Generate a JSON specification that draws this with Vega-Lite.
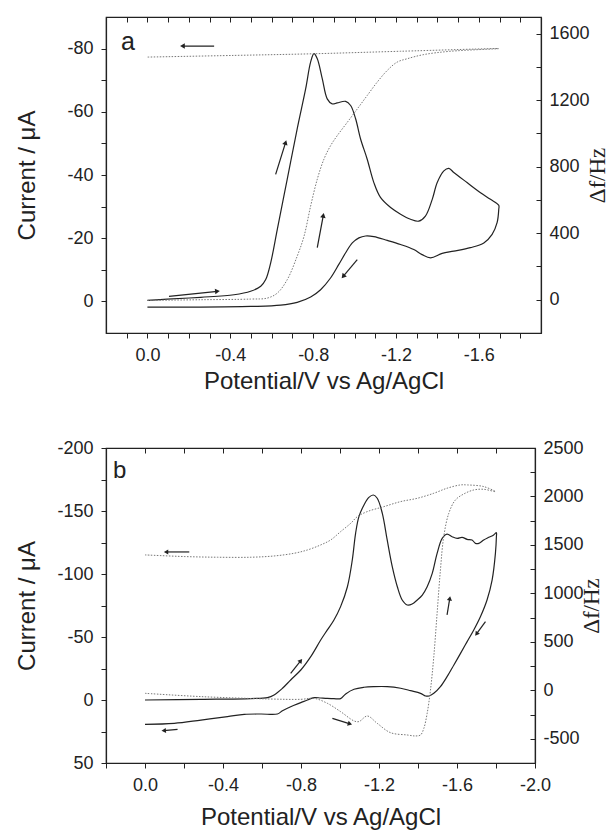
{
  "$schema": "https://vega.github.io/schema/vega-lite/v6.json",
  "background": "white",
  "padding": {"left": 14, "top": 15, "right": 0, "bottom": 4},
  "bounds": "flush",
  "spacing": 115,
  "config": {
    "view": {"stroke": "#222", "strokeWidth": 1.2},
    "font": "Liberation Sans",
    "axis": {
      "labelFont": "Liberation Sans", "labelFontSize": 18, "labelColor": "#222",
      "titleFont": "Liberation Sans", "titleFontSize": 24, "titleFontWeight": "normal", "titleColor": "#222",
      "domainColor": "#222", "domainWidth": 1.2, "tickColor": "#222", "tickWidth": 1,
      "grid": false, "labelOverlap": false, "labelFlush": false, "labelBound": false
    }
  },
  "datasets": {
    "cvA": [
      {"V":0,"I":-0.3},{"V":-0.096,"I":-0.7},{"V":-0.257,"I":-1.3},{"V":-0.418,"I":-2.1},{"V":-0.498,"I":-3.2},{"V":-0.547,"I":-4.8},{"V":-0.571,"I":-6.9},{"V":-0.595,"I":-12.2},{"V":-0.627,"I":-22.8},{"V":-0.675,"I":-38.7},{"V":-0.723,"I":-54.6},{"V":-0.764,"I":-67.3},{"V":-0.788,"I":-75.8},{"V":-0.804,"I":-78.4},{"V":-0.82,"I":-76.8},{"V":-0.844,"I":-70.5},{"V":-0.868,"I":-64.1},{"V":-0.892,"I":-62.5},{"V":-0.916,"I":-62.8},{"V":-0.957,"I":-63.3},{"V":-0.981,"I":-62.0},{"V":-1.005,"I":-57.8},{"V":-1.029,"I":-51.4},{"V":-1.061,"I":-45.0},{"V":-1.093,"I":-37.6},{"V":-1.125,"I":-32.9},{"V":-1.174,"I":-29.7},{"V":-1.222,"I":-27.6},{"V":-1.27,"I":-26.0},{"V":-1.31,"I":-25.4},{"V":-1.342,"I":-27.0},{"V":-1.375,"I":-32.3},{"V":-1.399,"I":-37.6},{"V":-1.431,"I":-41.3},{"V":-1.455,"I":-42.1},{"V":-1.479,"I":-40.8},{"V":-1.543,"I":-37.6},{"V":-1.608,"I":-34.4},{"V":-1.656,"I":-32.3},{"V":-1.696,"I":-30.4},
      {"V":-1.696,"I":-29.1},{"V":-1.688,"I":-24.9},{"V":-1.664,"I":-21.2},{"V":-1.624,"I":-18.5},{"V":-1.559,"I":-17.0},{"V":-1.479,"I":-15.9},{"V":-1.423,"I":-15.2},{"V":-1.367,"I":-13.8},{"V":-1.326,"I":-14.8},{"V":-1.286,"I":-16.4},{"V":-1.222,"I":-18.0},{"V":-1.158,"I":-19.3},{"V":-1.093,"I":-20.5},{"V":-1.053,"I":-20.7},{"V":-1.021,"I":-20.1},{"V":-0.989,"I":-18.5},{"V":-0.957,"I":-15.4},{"V":-0.924,"I":-11.7},{"V":-0.884,"I":-7.4},{"V":-0.836,"I":-3.7},{"V":-0.788,"I":-1.4},{"V":-0.723,"I":0.3},{"V":-0.643,"I":1.2},{"V":-0.498,"I":1.6},{"V":-0.257,"I":1.8},{"V":0,"I":1.8}
    ],
    "dfA": [
      {"V":0,"F":-4},{"V":-0.257,"F":0},{"V":-0.498,"F":4},{"V":-0.579,"F":10},{"V":-0.627,"F":40},{"V":-0.675,"F":121},{"V":-0.723,"F":262},{"V":-0.756,"F":382},{"V":-0.788,"F":564},{"V":-0.82,"F":725},{"V":-0.852,"F":845},{"V":-0.884,"F":926},{"V":-0.916,"F":986},{"V":-0.965,"F":1067},{"V":-1.013,"F":1147},{"V":-1.061,"F":1228},{"V":-1.109,"F":1308},{"V":-1.158,"F":1379},{"V":-1.206,"F":1429},{"V":-1.254,"F":1449},{"V":-1.334,"F":1474},{"V":-1.463,"F":1494},{"V":-1.696,"F":1510},
      {"V":-1.222,"F":1494},{"V":-0.804,"F":1479},{"V":-0.418,"F":1469},{"V":0,"F":1459}
    ],
    "arrA": [
      {"x0":-0.322,"y0":-80.8,"x1":-0.169,"y1":-80.8,"ang":270},
      {"x0":-0.104,"y0":-1.6,"x1":-0.338,"y1":-3.2,"ang":84},
      {"x0":-0.619,"y0":-40.2,"x1":-0.667,"y1":-50.3,"ang":17},
      {"x0":-0.82,"y0":-17.0,"x1":-0.849,"y1":-27.2,"ang":10},
      {"x0":-1.013,"y0":-13.2,"x1":-0.945,"y1":-7.9,"ang":220}
    ],
    "cvB": [
      {"V":0,"I":0},{"V":-0.287,"I":-0.5},{"V":-0.543,"I":-1.1},{"V":-0.628,"I":-1.9},{"V":-0.662,"I":-4.0},{"V":-0.705,"I":-9.3},{"V":-0.747,"I":-15.9},{"V":-0.799,"I":-23.8},{"V":-0.85,"I":-34.4},{"V":-0.901,"I":-47.6},{"V":-0.935,"I":-55.6},{"V":-0.969,"I":-63.5},{"V":-1.003,"I":-74.1},{"V":-1.038,"I":-89.9},{"V":-1.063,"I":-111.1},{"V":-1.08,"I":-132.3},{"V":-1.097,"I":-145.5},{"V":-1.123,"I":-154.8},{"V":-1.148,"I":-160.8},{"V":-1.171,"I":-162.7},{"V":-1.191,"I":-160.1},{"V":-1.217,"I":-148.1},{"V":-1.242,"I":-127.0},{"V":-1.268,"I":-105.8},{"V":-1.294,"I":-89.9},{"V":-1.319,"I":-79.4},{"V":-1.345,"I":-75.4},{"V":-1.37,"I":-76.2},{"V":-1.396,"I":-79.4},{"V":-1.422,"I":-83.3},{"V":-1.447,"I":-89.9},{"V":-1.473,"I":-100.5},{"V":-1.498,"I":-116.4},{"V":-1.524,"I":-128.3},{"V":-1.549,"I":-131.7},{"V":-1.575,"I":-129.6},{"V":-1.601,"I":-128.3},{"V":-1.626,"I":-129.1},{"V":-1.652,"I":-127.5},{"V":-1.677,"I":-127.0},{"V":-1.695,"I":-124.3},{"V":-1.712,"I":-124.3},{"V":-1.737,"I":-127.0},{"V":-1.763,"I":-129.1},{"V":-1.788,"I":-131.0},{"V":-1.802,"I":-132.8},
      {"V":-1.802,"I":-129.6},{"V":-1.797,"I":-116.4},{"V":-1.78,"I":-95.2},{"V":-1.754,"I":-79.4},{"V":-1.72,"I":-66.1},{"V":-1.686,"I":-55.6},{"V":-1.652,"I":-46.3},{"V":-1.618,"I":-37.0},{"V":-1.584,"I":-27.8},{"V":-1.549,"I":-18.5},{"V":-1.515,"I":-10.6},{"V":-1.481,"I":-5.3},{"V":-1.456,"I":-3.2},{"V":-1.439,"I":-3.2},{"V":-1.413,"I":-5.3},{"V":-1.362,"I":-7.4},{"V":-1.311,"I":-9.3},{"V":-1.242,"I":-10.6},{"V":-1.174,"I":-10.6},{"V":-1.123,"I":-10.1},{"V":-1.072,"I":-8.5},{"V":-1.029,"I":-4.8},{"V":-1.003,"I":-1.1},{"V":-0.969,"I":-1.1},{"V":-0.935,"I":-1.3},{"V":-0.901,"I":-1.6},{"V":-0.867,"I":-1.9},{"V":-0.833,"I":0},{"V":-0.799,"I":2.1},{"V":-0.747,"I":5.3},{"V":-0.705,"I":8.5},{"V":-0.679,"I":11.1},{"V":-0.594,"I":11.1},{"V":-0.509,"I":11.4},{"V":-0.423,"I":13.2},{"V":-0.287,"I":15.9},{"V":-0.15,"I":18.5},{"V":0,"I":19.3}
    ],
    "dfB": [
      {"V":0,"F":-31},{"V":-0.287,"F":-65},{"V":-0.628,"F":-89},{"V":-0.799,"F":-93},{"V":-0.867,"F":-83},{"V":-0.935,"F":-134},{"V":-1.003,"F":-220},{"V":-1.072,"F":-316},{"V":-1.097,"F":-323},{"V":-1.14,"F":-265},{"V":-1.191,"F":-341},{"V":-1.259,"F":-437},{"V":-1.345,"F":-461},{"V":-1.387,"F":-471},{"V":-1.413,"F":-461},{"V":-1.43,"F":-392},{"V":-1.447,"F":-237},{"V":-1.464,"F":3},{"V":-1.481,"F":347},{"V":-1.498,"F":795},{"V":-1.515,"F":1242},{"V":-1.532,"F":1586},{"V":-1.558,"F":1827},{"V":-1.592,"F":1964},{"V":-1.635,"F":2026},{"V":-1.686,"F":2067},{"V":-1.737,"F":2074},{"V":-1.797,"F":2050},
      {"V":-1.737,"F":2102},{"V":-1.652,"F":2119},{"V":-1.618,"F":2119},{"V":-1.549,"F":2085},{"V":-1.481,"F":2033},{"V":-1.396,"F":1981},{"V":-1.311,"F":1947},{"V":-1.225,"F":1895},{"V":-1.14,"F":1844},{"V":-1.089,"F":1792},{"V":-1.055,"F":1723},{"V":-1.003,"F":1637},{"V":-0.952,"F":1551},{"V":-0.901,"F":1500},{"V":-0.833,"F":1448},{"V":-0.765,"F":1414},{"V":-0.662,"F":1386},{"V":-0.543,"F":1373},{"V":-0.372,"F":1373},{"V":-0.201,"F":1380},{"V":0,"F":1397}
    ],
    "arrB": [
      {"x0":-0.227,"y0":-117.5,"x1":-0.108,"y1":-117.5,"ang":270},
      {"x0":-0.747,"y0":-21.2,"x1":-0.799,"y1":-31.2,"ang":38},
      {"x0":-1.549,"y0":-67.5,"x1":-1.563,"y1":-80.7,"ang":9},
      {"x0":-1.746,"y0":-62.2,"x1":-1.7,"y1":-52.4,"ang":216},
      {"x0":-0.961,"y0":14.6,"x1":-1.051,"y1":19.0,"ang":108},
      {"x0":-0.167,"y0":23.3,"x1":-0.096,"y1":24.3,"ang":265}
    ]
  },
  "vconcat": [
    {
      "width": 435, "height": 316,
      "layer": [
        {
          "data": {"name": "cvA"},
          "mark": {"type": "line", "color": "#222", "strokeWidth": 1.2, "interpolate": "catmull-rom"},
          "encoding": {
            "x": {"field": "V", "type": "quantitative", "scale": {"domain": [0.2, -1.9], "nice": false, "zero": false},
              "axis": {"orient": "bottom", "title": "Potential/V vs Ag/AgCl", "values": [0.1,0,-0.1,-0.2,-0.3,-0.4,-0.5,-0.6,-0.7,-0.8,-0.9,-1,-1.1,-1.2,-1.3,-1.4,-1.5,-1.6,-1.7,-1.8],
                "labelExpr": "abs(round(datum.value*10)) % 4 == 0 ? (datum.value == 0 ? '0.0' : '-' + format(abs(datum.value), '.1f')) : ''",
                "tickSize": 5, "labelPadding": 8, "titlePadding": 5}},
            "y": {"field": "I", "type": "quantitative", "scale": {"domain": [10, -90], "nice": false, "zero": false},
              "axis": {"orient": "left", "title": "Current / μA", "values": [0,-10,-20,-30,-40,-50,-60,-70,-80],
                "labelExpr": "datum.value % 20 == 0 ? (datum.value < 0 ? '-' + abs(datum.value) : '0') : ''",
                "tickSize": 5, "labelPadding": 8, "minExtent": 50, "maxExtent": 50, "titlePadding": 17}},
            "order": {"value": null}
          }
        },
        {
          "data": {"name": "dfA"},
          "mark": {"type": "line", "color": "#777", "strokeWidth": 1, "strokeDash": [1.5, 1.5], "interpolate": "catmull-rom"},
          "encoding": {
            "x": {"field": "V", "type": "quantitative", "scale": {"domain": [0.2, -1.9], "nice": false, "zero": false},
              "axis": {"orient": "top", "title": null, "labels": false, "domain": false, "tickSize": -5, "values": [0.1,0,-0.1,-0.2,-0.3,-0.4,-0.5,-0.6,-0.7,-0.8,-0.9,-1,-1.1,-1.2,-1.3,-1.4,-1.5,-1.6,-1.7,-1.8]}},
            "y": {"field": "F", "type": "quantitative", "scale": {"domain": [-200, 1700], "nice": false, "zero": false},
              "axis": {"orient": "right", "title": "Δf/Hz", "titleFont": "Liberation Serif", "titleFontSize": 23, "titleAngle": 270, "titleBaseline": "top", "titlePadding": -3,
                "values": [0,200,400,600,800,1000,1200,1400,1600],
                "labelExpr": "datum.value % 400 == 0 ? '' + datum.value : ''",
                "tickSize": -5, "labelPadding": 13}},
            "order": {"value": null}
          }
        },
        {
          "data": {"name": "arrA"},
          "mark": {"type": "rule", "color": "#222", "strokeWidth": 1.2},
          "encoding": {
            "x": {"field": "x0", "type": "quantitative", "scale": {"domain": [0.2, -1.9], "nice": false, "zero": false}, "axis": null},
            "x2": {"field": "x1"},
            "y": {"field": "y0", "type": "quantitative", "scale": {"domain": [10, -90], "nice": false, "zero": false}, "axis": null},
            "y2": {"field": "y1"}
          }
        },
        {
          "data": {"name": "arrA"},
          "mark": {"type": "point", "shape": "triangle-up", "filled": true, "color": "#222", "opacity": 1, "size": 30},
          "encoding": {
            "x": {"field": "x1", "type": "quantitative", "scale": {"domain": [0.2, -1.9], "nice": false, "zero": false}, "axis": null},
            "y": {"field": "y1", "type": "quantitative", "scale": {"domain": [10, -90], "nice": false, "zero": false}, "axis": null},
            "angle": {"field": "ang", "type": "quantitative", "scale": null}
          }
        },
        {
          "data": {"values": [{"t": "a", "V": 0.094, "I": -82}]},
          "mark": {"type": "text", "fontSize": 25, "font": "Liberation Sans", "color": "#222", "align": "center", "baseline": "middle"},
          "encoding": {
            "x": {"field": "V", "type": "quantitative", "scale": {"domain": [0.2, -1.9], "nice": false, "zero": false}, "axis": null},
            "y": {"field": "I", "type": "quantitative", "scale": {"domain": [10, -90], "nice": false, "zero": false}, "axis": null},
            "text": {"field": "t"}
          }
        }
      ],
      "resolve": {"scale": {"y": "independent"}, "axis": {"x": "independent", "y": "independent"}}
    },
    {
      "width": 429, "height": 315,
      "layer": [
        {
          "data": {"name": "cvB"},
          "mark": {"type": "line", "color": "#222", "strokeWidth": 1.2, "interpolate": "catmull-rom"},
          "encoding": {
            "x": {"field": "V", "type": "quantitative", "scale": {"domain": [0.2, -2.0], "nice": false, "zero": false},
              "axis": {"orient": "bottom", "title": "Potential/V vs Ag/AgCl", "values": [0.2,0,-0.2,-0.4,-0.6,-0.8,-1,-1.2,-1.4,-1.6,-1.8,-2],
                "labelExpr": "abs(round(datum.value*10)) % 4 == 0 ? (datum.value == 0 ? '0.0' : '-' + format(abs(datum.value), '.1f')) : ''",
                "tickSize": 5, "labelPadding": 8, "titlePadding": 11}},
            "y": {"field": "I", "type": "quantitative", "scale": {"domain": [50, -200], "nice": false, "zero": false},
              "axis": {"orient": "left", "title": "Current / μA", "values": [50,25,0,-25,-50,-75,-100,-125,-150,-175,-200],
                "labelExpr": "datum.value % 50 == 0 ? (datum.value < 0 ? '-' + abs(datum.value) : '' + datum.value) : ''",
                "tickSize": 5, "labelPadding": 8, "minExtent": 50, "maxExtent": 50, "titlePadding": 17}},
            "order": {"value": null}
          }
        },
        {
          "data": {"name": "dfB"},
          "mark": {"type": "line", "color": "#777", "strokeWidth": 1, "strokeDash": [1.5, 1.5], "interpolate": "catmull-rom"},
          "encoding": {
            "x": {"field": "V", "type": "quantitative", "scale": {"domain": [0.2, -2.0], "nice": false, "zero": false},
              "axis": {"orient": "top", "title": null, "labels": false, "domain": false, "tickSize": -5, "values": [0.2,0,-0.2,-0.4,-0.6,-0.8,-1,-1.2,-1.4,-1.6,-1.8,-2]}},
            "y": {"field": "F", "type": "quantitative", "scale": {"domain": [-750, 2500], "nice": false, "zero": false},
              "axis": {"orient": "right", "title": "Δf/Hz", "titleFont": "Liberation Serif", "titleFontSize": 23, "titleAngle": 270, "titleBaseline": "top", "titlePadding": -3,
                "values": [-750,-500,-250,0,250,500,750,1000,1250,1500,1750,2000,2250,2500],
                "labelExpr": "datum.value % 500 == 0 ? (datum.value < 0 ? '-' + abs(datum.value) : '' + datum.value) : ''",
                "tickSize": -5, "labelPadding": 13}},
            "order": {"value": null}
          }
        },
        {
          "data": {"name": "arrB"},
          "mark": {"type": "rule", "color": "#222", "strokeWidth": 1.2},
          "encoding": {
            "x": {"field": "x0", "type": "quantitative", "scale": {"domain": [0.2, -2.0], "nice": false, "zero": false}, "axis": null},
            "x2": {"field": "x1"},
            "y": {"field": "y0", "type": "quantitative", "scale": {"domain": [50, -200], "nice": false, "zero": false}, "axis": null},
            "y2": {"field": "y1"}
          }
        },
        {
          "data": {"name": "arrB"},
          "mark": {"type": "point", "shape": "triangle-up", "filled": true, "color": "#222", "opacity": 1, "size": 26},
          "encoding": {
            "x": {"field": "x1", "type": "quantitative", "scale": {"domain": [0.2, -2.0], "nice": false, "zero": false}, "axis": null},
            "y": {"field": "y1", "type": "quantitative", "scale": {"domain": [50, -200], "nice": false, "zero": false}, "axis": null},
            "angle": {"field": "ang", "type": "quantitative", "scale": null}
          }
        },
        {
          "data": {"values": [{"t": "b", "V": 0.13, "I": -182}]},
          "mark": {"type": "text", "fontSize": 24, "font": "Liberation Sans", "color": "#222", "align": "center", "baseline": "middle"},
          "encoding": {
            "x": {"field": "V", "type": "quantitative", "scale": {"domain": [0.2, -2.0], "nice": false, "zero": false}, "axis": null},
            "y": {"field": "I", "type": "quantitative", "scale": {"domain": [50, -200], "nice": false, "zero": false}, "axis": null},
            "text": {"field": "t"}
          }
        }
      ],
      "resolve": {"scale": {"y": "independent"}, "axis": {"x": "independent", "y": "independent"}}
    }
  ]
}
